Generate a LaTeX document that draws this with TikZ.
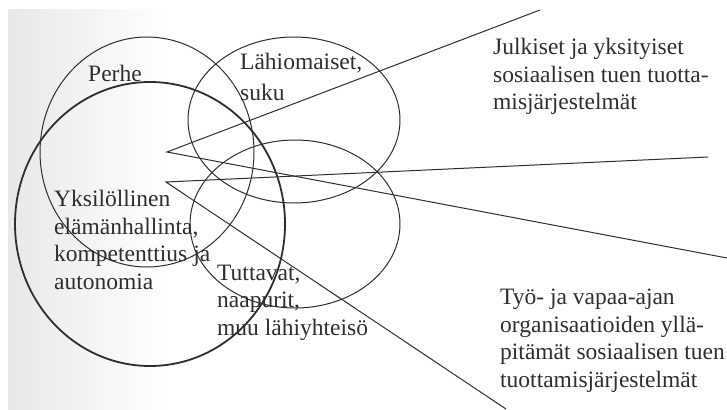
\documentclass[tikz,border=0pt]{standalone}
\usepackage{fontspec}
\setmainfont{Liberation Serif}
\usepackage{tikz}
\definecolor{ink}{HTML}{2E2E2E}
\definecolor{page}{HTML}{E8E8EA}

\begin{document}
\begin{tikzpicture}[x=1pt,y=-1pt,ring/.style={draw=ink,line width=1pt},self/.style={draw=ink,line width=1.8pt},spoke/.style={draw=ink,line width=1pt},lbl/.style={anchor=base west,align=left,inner sep=0pt,text=ink,font=\fontsize{23.5}{27.5}\selectfont}]
\useasboundingbox (0,0) rectangle (727,409);
\fill[left color=page,right color=white] (8,10) rectangle (170,409);
% circles of the network
\draw[ring] (147,152) ellipse [x radius=107,y radius=115];
\draw[ring] (294,120) ellipse [x radius=106,y radius=83];
\draw[ring] (295,224) ellipse [x radius=105,y radius=84];
\draw[self] (150,224) ellipse [x radius=135,y radius=142];
% spokes out to the support systems
\coordinate (hub1) at (167,152);
\coordinate (hub2) at (166,182);
\coordinate (pub1) at (540,10);
\coordinate (pub2) at (727,258);
\coordinate (org1) at (708,157);
\coordinate (org2) at (506,409);
\draw[spoke] (pub1) -- (hub1) -- (pub2);
\draw[spoke] (org1) -- (hub2) -- (org2);
% labels, placed by the baseline of their last line
\node[lbl] (perhe) at (88,82) {Perhe};
\node[lbl] (suku) at (240,101) {Lähiomaiset,\\[3.5pt]suku};
\node[lbl] (yksilo) at (54,289) {Yksilöllinen\\elämänhallinta,\\kompetenttius ja\\autonomia};
\node[lbl] (tuttavat) at (217,335) {Tuttavat,\\naapurit,\\muu lähiyhteisö};
\node[lbl] (julkiset) at (493,110) {Julkiset ja yksityiset\\sosiaalisen tuen tuotta-\\misjärjestelmät};
\node[lbl] (tyo) at (500,387) {Työ- ja vapaa-ajan\\organisaatioiden yllä-\\pitämät sosiaalisen tuen\\tuottamisjärjestelmät};
\end{tikzpicture}
\end{document}
